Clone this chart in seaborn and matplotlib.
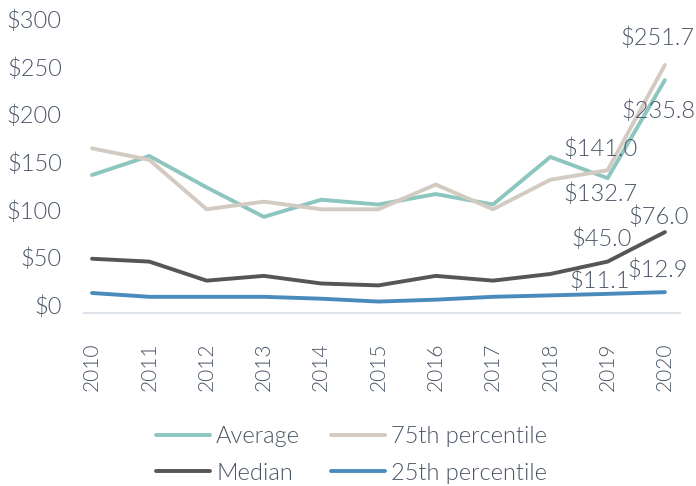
import matplotlib
matplotlib.use("Agg")
import matplotlib.pyplot as plt
import seaborn as sns
import pandas as pd

years = [2010, 2011, 2012, 2013, 2014, 2015, 2016, 2017, 2018, 2019, 2020]
average = [136, 156, 123, 92, 110, 105, 116, 105, 155, 132.7, 235.8]
p75 = [164, 152, 100, 108, 100, 100, 126, 100, 131, 141.0, 251.7]
median = [48, 45, 25, 30, 22, 20, 30, 25, 32, 45.0, 76.0]
p25 = [12, 8, 8, 8, 6, 3, 5, 8, 9.5, 11.1, 12.9]

series_names = ["Average", "Median", "75th percentile", "25th percentile"]
series_values = [average, median, p75, p25]
colors = {"Average": "#8dc6bf", "75th percentile": "#d3cbc1",
          "Median": "#565656", "25th percentile": "#4a8bbd"}
y_ticks = [0, 50, 100, 150, 200, 250, 300]

text_color = "#4a5566"
light = 300

df = pd.DataFrame({
    "year": years * len(series_names),
    "value": [v for vals in series_values for v in vals],
    "series": [n for n in series_names for _ in years],
})

sns.set_theme(style="white")
plt.rcParams["font.family"] = ["Lato", "DejaVu Sans"]
plt.rcParams["font.weight"] = light
plt.rcParams["text.color"] = text_color

fig = plt.figure(figsize=(6.96, 4.86), dpi=100)
ax = fig.add_axes([0.1207, 0.356, 0.856, 0.605])

sns.lineplot(data=df, x="year", y="value", hue="series", hue_order=series_names,
             palette=colors, linewidth=2.8, ax=ax)

ax.set_xlim(2009.86, 2020.26)
ax.set_ylim(-9, 300)
ax.set_xticks(years)
ax.set_xticklabels([str(y) for y in years], rotation=90, fontsize=15,
                   color=text_color, fontweight=light)
ax.set_yticks(y_ticks)
ax.set_yticklabels([f"${t}" for t in y_ticks], fontsize=17, color=text_color,
                   fontweight=light)
ax.tick_params(axis="x", length=0, pad=21)
ax.tick_params(axis="y", length=0, pad=16)
ax.set_xlabel("")
ax.set_ylabel("")
for side in ["top", "right", "left"]:
    ax.spines[side].set_visible(False)
ax.spines["bottom"].set_color("#dde3e8")
ax.spines["bottom"].set_linewidth(1.5)

# value labels for the last two years (offsets in pixels: dx, dy)
px = 0.72
labels = [
    (2020, p75[-1], -7, 27),
    (2020, average[-1], -6, -31),
    (2019, p75[-2], -7, 22),
    (2019, average[-2], -7, -16),
    (2020, median[-1], -6, 15),
    (2019, median[-2], -6, 23),
    (2019, p25[-2], -8, 13),
    (2020, p25[-1], -7, 22),
]
for x, v, dx, dy in labels:
    ax.annotate(f"${v:.1f}", xy=(x, v), xytext=(dx * px, dy * px),
                textcoords="offset points", ha="center", va="center",
                fontsize=17, color=text_color, fontweight=light,
                annotation_clip=False)

sns.move_legend(ax, "center", bbox_to_anchor=(0.505, 0.0638),
                bbox_transform=fig.transFigure, ncol=2, frameon=False,
                title=None, fontsize=17, handlelength=2.3, handletextpad=0.25,
                columnspacing=1.3, labelspacing=0.65)
for t in ax.get_legend().get_texts():
    t.set_color(text_color)
    t.set_fontweight(light)

fig.savefig("out.png", dpi=100)
